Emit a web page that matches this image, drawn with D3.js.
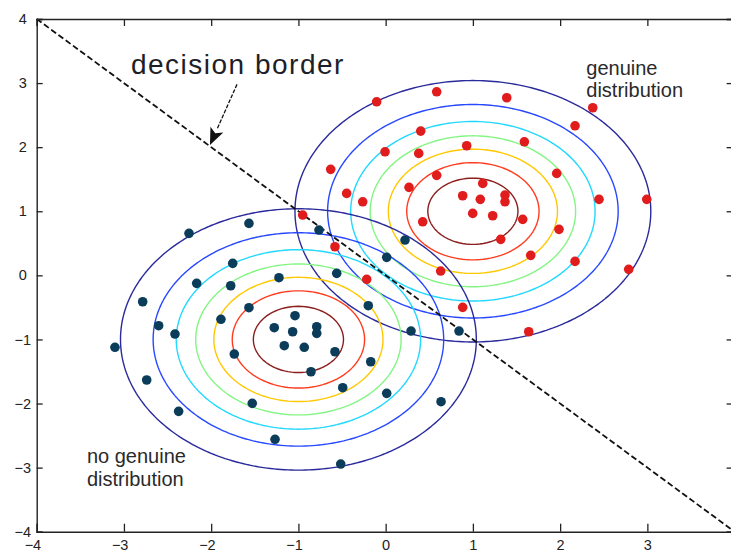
<!DOCTYPE html>
<html><head><meta charset="utf-8">
<script src="https://cdn.jsdelivr.net/npm/d3@7"></script>
<style>body{margin:0;background:#fff} svg{display:block}</style>
</head><body>
<svg id="chart" width="731" height="553"></svg>
<script>
// ---------- data ----------
const xTickValues = [-4, -3, -2, -1, 0, 1, 2, 3, 4];
const yTickValues = [-4, -3, -2, -1, 0, 1, 2, 3, 4];
const genuineCenter = [1, 1];
const noGenuineCenter = [-1, -1];
const sigma = 1;
const contourLevels = [0.125, 0.25, 0.375, 0.5, 0.625, 0.75, 0.875];
const contourColors = ["#2a2a9c", "#2848ff", "#22d8ff", "#84f584", "#ffc800", "#ff3c1e", "#8c1e1e"];

const genuineX = [0.585, -0.103, 0.402, 0.929, -0.007, 0.379, -0.630, 0.585, 1.113, -0.447,
  -0.263, 0.268, 0.883, 1.085, 0.998, 1.227, 0.425, -0.951, -0.581, 1.388,
  2.374, 2.171, 1.590, 1.961, 1.368, 1.368, 2.446, 2.993, 1.571, 1.987,
  1.319, 1.663, 2.171, 2.786, 1.640, -0.217, 0.631, 0.883];
const genuineY = [2.864, 2.708, 2.251, 2.022, 1.928, 1.903, 1.654, 1.560, 1.435, 1.279,
  1.148, 1.373, 1.242, 1.186, 0.967, 0.930, 0.836, 0.941, 0.446, 2.771,
  2.615, 2.334, 2.084, 1.591, 1.253, 1.148, 1.186, 1.186, 0.874, 0.718,
  0.562, 0.312, 0.218, 0.094, -0.880, -0.062, 0.067, -0.499];

const noGenuineX = [-1.567, -2.254, -1.753, -2.166, -1.776, -1.223, -2.785, -1.567, -1.039, -1.888,
  -1.277, -1.066, -2.602, -2.415, -1.162, -0.933, -3.103, -1.735, -0.856, -2.739,
  -1.529, -2.373, -1.268, -0.764, 0.222, 0.012, -0.561, -0.199, -0.790, -0.790,
  -0.581, 0.291, 0.841, -0.171, -0.492, 0.012, 0.635, -0.515];
const noGenuineY = [0.811, 0.655, 0.187, -0.125, -0.162, -0.037, -0.412, -0.505, -0.630, -0.686,
  -0.817, -0.880, -0.786, -0.916, -1.098, -1.123, -1.123, -1.228, -1.504, -1.633,
  -1.997, -2.122, -2.558, 0.707, 0.551, 0.281, 0.031, -0.474, -0.802, -0.905,
  -1.192, -0.869, -0.869, -1.348, -1.753, -1.841, -1.972, -2.944];

const decisionBorderX = [-4, 4];
const decisionBorderY = [4, -4];

const arrowTail = [-1.704, 2.98];
const arrowTip = [-2.014, 2.033];

// ---------- layout ----------
const svg = d3.select("#chart");
const x = d3.scaleLinear().domain([-4, 4]).range([36.7, 734.6]);
const y = d3.scaleLinear().domain([-4, 4]).range([531.7, 19]);

// ---------- contours ----------
const h = 0.04;
const n = Math.round(8 / h) + 1;
function gridValues(c) {
  const v = new Float64Array(n * n);
  for (let j = 0; j < n; j++) {
    const yy = -4 + j * h;
    for (let i = 0; i < n; i++) {
      const xx = -4 + i * h;
      const d2 = (xx - c[0]) ** 2 + (yy - c[1]) ** 2;
      v[j * n + i] = Math.exp(-d2 / (2 * sigma * sigma));
    }
  }
  return v;
}
const proj = d3.geoTransform({
  point: function (gx, gy) {
    this.stream.point(x(-4 + (gx - 0.5) * h), y(-4 + (gy - 0.5) * h));
  }
});
const pathGen = d3.geoPath(proj);
const contourGen = d3.contours().size([n, n]).thresholds(contourLevels);

const gCont = svg.append("g").attr("fill", "none").attr("stroke-width", 1.4);
[genuineCenter, noGenuineCenter].forEach(c => {
  const cs = contourGen(gridValues(c));
  gCont.selectAll(null).data(cs).enter().append("path")
    .attr("d", pathGen)
    .attr("stroke", d => contourColors[contourLevels.indexOf(d.value)]);
});

// ---------- decision border ----------
svg.append("line")
  .attr("x1", x(decisionBorderX[0])).attr("y1", y(decisionBorderY[0]))
  .attr("x2", x(decisionBorderX[1])).attr("y2", y(decisionBorderY[1]))
  .attr("stroke", "#111").attr("stroke-width", 1.8)
  .attr("stroke-dasharray", "6,3");

// arrow
const tx = x(arrowTip[0]), ty = y(arrowTip[1]);
const sx = x(arrowTail[0]), sy = y(arrowTail[1]);
const ang = Math.atan2(ty - sy, tx - sx);
const L = 17, W = 7;
const bx = tx - L * Math.cos(ang), by = ty - L * Math.sin(ang);
svg.append("line")
  .attr("x1", sx).attr("y1", sy).attr("x2", bx).attr("y2", by)
  .attr("stroke", "#111").attr("stroke-width", 1.3).attr("stroke-dasharray", "4,1.5");
svg.append("path")
  .attr("d", `M${tx},${ty} L${bx + W * Math.sin(ang)},${by - W * Math.cos(ang)} L${bx + 4 * Math.cos(ang)},${by + 4 * Math.sin(ang)} L${bx - W * Math.sin(ang)},${by + W * Math.cos(ang)} Z`)
  .attr("fill", "#111");

// ---------- points ----------
svg.append("g").selectAll("circle").data(d3.range(noGenuineX.length)).enter().append("circle")
  .attr("cx", i => x(noGenuineX[i])).attr("cy", i => y(noGenuineY[i]))
  .attr("r", 4.8).attr("fill", "#0b3d5a");
svg.append("g").selectAll("circle").data(d3.range(genuineX.length)).enter().append("circle")
  .attr("cx", i => x(genuineX[i])).attr("cy", i => y(genuineY[i]))
  .attr("r", 4.8).attr("fill", "#e01c1c");

// ---------- axes ----------
const font = "Liberation Sans, Arial, sans-serif";
const axB = svg.append("g").attr("transform", `translate(0,${y(-4)})`)
  .call(d3.axisBottom(x).tickValues(xTickValues).tickSize(-8).tickPadding(8).tickFormat(d3.format("d")));
axB.selectAll("text").attr("text-anchor", "end").attr("dx", 4);
const axT = svg.append("g").attr("transform", `translate(0,${y(4)})`)
  .call(d3.axisTop(x).tickValues(xTickValues).tickSize(-7).tickFormat(""));
const axL = svg.append("g").attr("transform", `translate(${x(-4)},0)`)
  .call(d3.axisLeft(y).tickValues(yTickValues).tickSize(-6).tickPadding(14).tickFormat(d3.format("d")));
axL.selectAll("text").attr("text-anchor", "middle");
const axR = svg.append("g").attr("transform", `translate(${x(4)},0)`)
  .call(d3.axisRight(y).tickValues(yTickValues).tickSize(-8).tickFormat(""));
[axB, axT, axL, axR].forEach(a => {
  a.select(".domain").attr("stroke", "#222").attr("stroke-width", 1.4);
  a.selectAll(".tick line").attr("stroke", "#222").attr("stroke-width", 1.3);
  a.selectAll("text").attr("font-family", font).attr("font-size", 14.5).attr("fill", "#222");
});

// ---------- annotations ----------
svg.append("text").attr("x", x(-2.92)).attr("y", y(3.14))
  .attr("font-family", font).attr("font-size", 28).attr("letter-spacing", 1.5)
  .attr("fill", "#1e1e28").text("decision border");
svg.append("text").attr("font-family", font).attr("font-size", 20).attr("fill", "#2a2a2a")
  .selectAll("tspan").data(["genuine", "distribution"]).enter().append("tspan")
  .attr("x", x(2.3)).attr("y", (d, i) => y(3.12) + i * 22).text(d => d);
svg.append("text").attr("font-family", font).attr("font-size", 20).attr("fill", "#2a2a2a")
  .selectAll("tspan").data(["no genuine", "distribution"]).enter().append("tspan")
  .attr("x", x(-3.424)).attr("y", (d, i) => y(-2.93) + i * 23).text(d => d);
</script>
</body></html>
